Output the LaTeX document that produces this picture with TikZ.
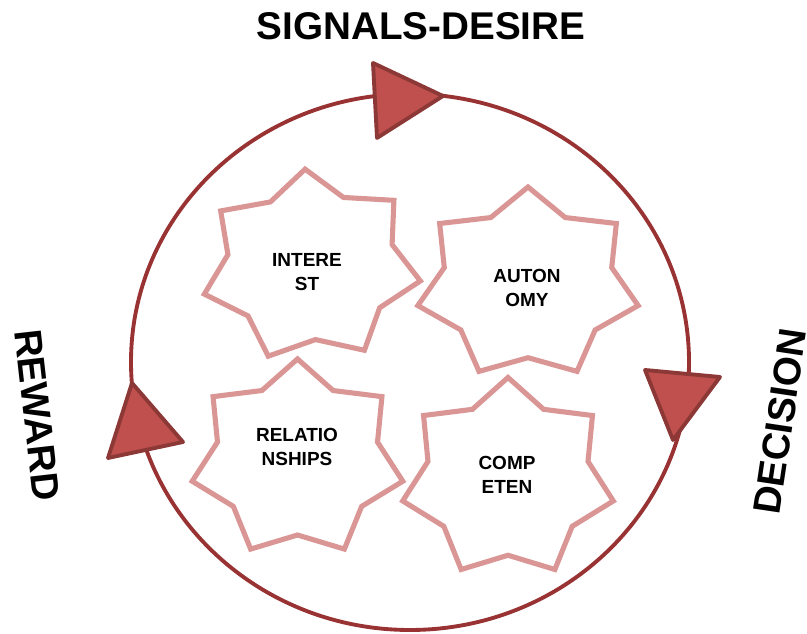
\documentclass[tikz,border=0pt]{standalone}
\usepackage{fontspec}
\setsansfont{Liberation Sans}
\definecolor{ringred}{RGB}{153,51,51}
\definecolor{arrowfill}{RGB}{192,80,77}
\definecolor{arrowedge}{RGB}{140,56,54}
\definecolor{starpink}{RGB}{217,150,148}
\tikzset{
  ringline/.style={draw=ringred, line width=2.2pt},
  arrowhead/.style={fill=arrowfill, draw=arrowedge, line width=2.2pt, line join=round},
  starline/.style={draw=starpink, line width=2.9pt, line join=miter},
  biglabel/.style={font=\sffamily\bfseries\fontsize{22}{26}\selectfont, inner sep=0pt},
  starlabel/.style={font=\sffamily\bfseries\fontsize{10.8}{14}\selectfont, align=center, inner sep=0pt},
}
% seven-pointed star: centre x, centre y, x radius, y radius, rotation
\newcommand\sevenstar[5]{%
  \draw[starline, shift={(#1,#2)}, rotate=#5]
    ({#3*cos(90)},{#4*sin(90)})
    \foreach \k in {0,...,6}{
      -- ({0.76*#3*cos(90+(\k+0.5)*360/7)},{0.76*#4*sin(90+(\k+0.5)*360/7)})
      -- ({#3*cos(90+(\k+1)*360/7)},{#4*sin(90+(\k+1)*360/7)})
    } -- cycle;
}
\begin{document}
\begin{tikzpicture}[x=0.02cm, y=0.02cm]
    \useasboundingbox (0,0) rectangle (807,634);

    % the cycle
    \coordinate (hub) at (410,272);
    \draw[ringline] (hub) ellipse [x radius=279, y radius=268];

    % arrow heads on the ring
    \draw[arrowhead] (373,571) -- (443,538) -- (377,496) -- cycle;
    \draw[arrowhead] (645,264) -- (720,257) -- (673,194) -- cycle;
    \draw[arrowhead] (132,251) -- (183,192) -- (108,176) -- cycle;

    % stars
    \sevenstar{311}{368}{111}{97}{3.5}
    \sevenstar{528}{350}{113}{97}{0}
    \sevenstar{297.5}{175}{108}{100}{0}
    \sevenstar{508}{155.5}{108}{101}{0}

    % star texts
    \node[starlabel] (interest) at (307,362) {INTERE\\ST};
    \node[starlabel] (autonomy) at (527,346) {AUTON\\OMY};
    \node[starlabel] (relations) at (297,187) {RELATIO\\NSHIPS};
    \node[starlabel] (competence) at (507,159) {COMP\\ETEN};

    % stage labels
    \node[biglabel] (signals) at (421,608) {SIGNALS-DESIRE};
    \node[biglabel, rotate=81.5] (decision) at (780,212.5) {DECISION};
    \node[biglabel, rotate=-83.5] (reward) at (37.5,219) {REWARD};
\end{tikzpicture}
\end{document}
